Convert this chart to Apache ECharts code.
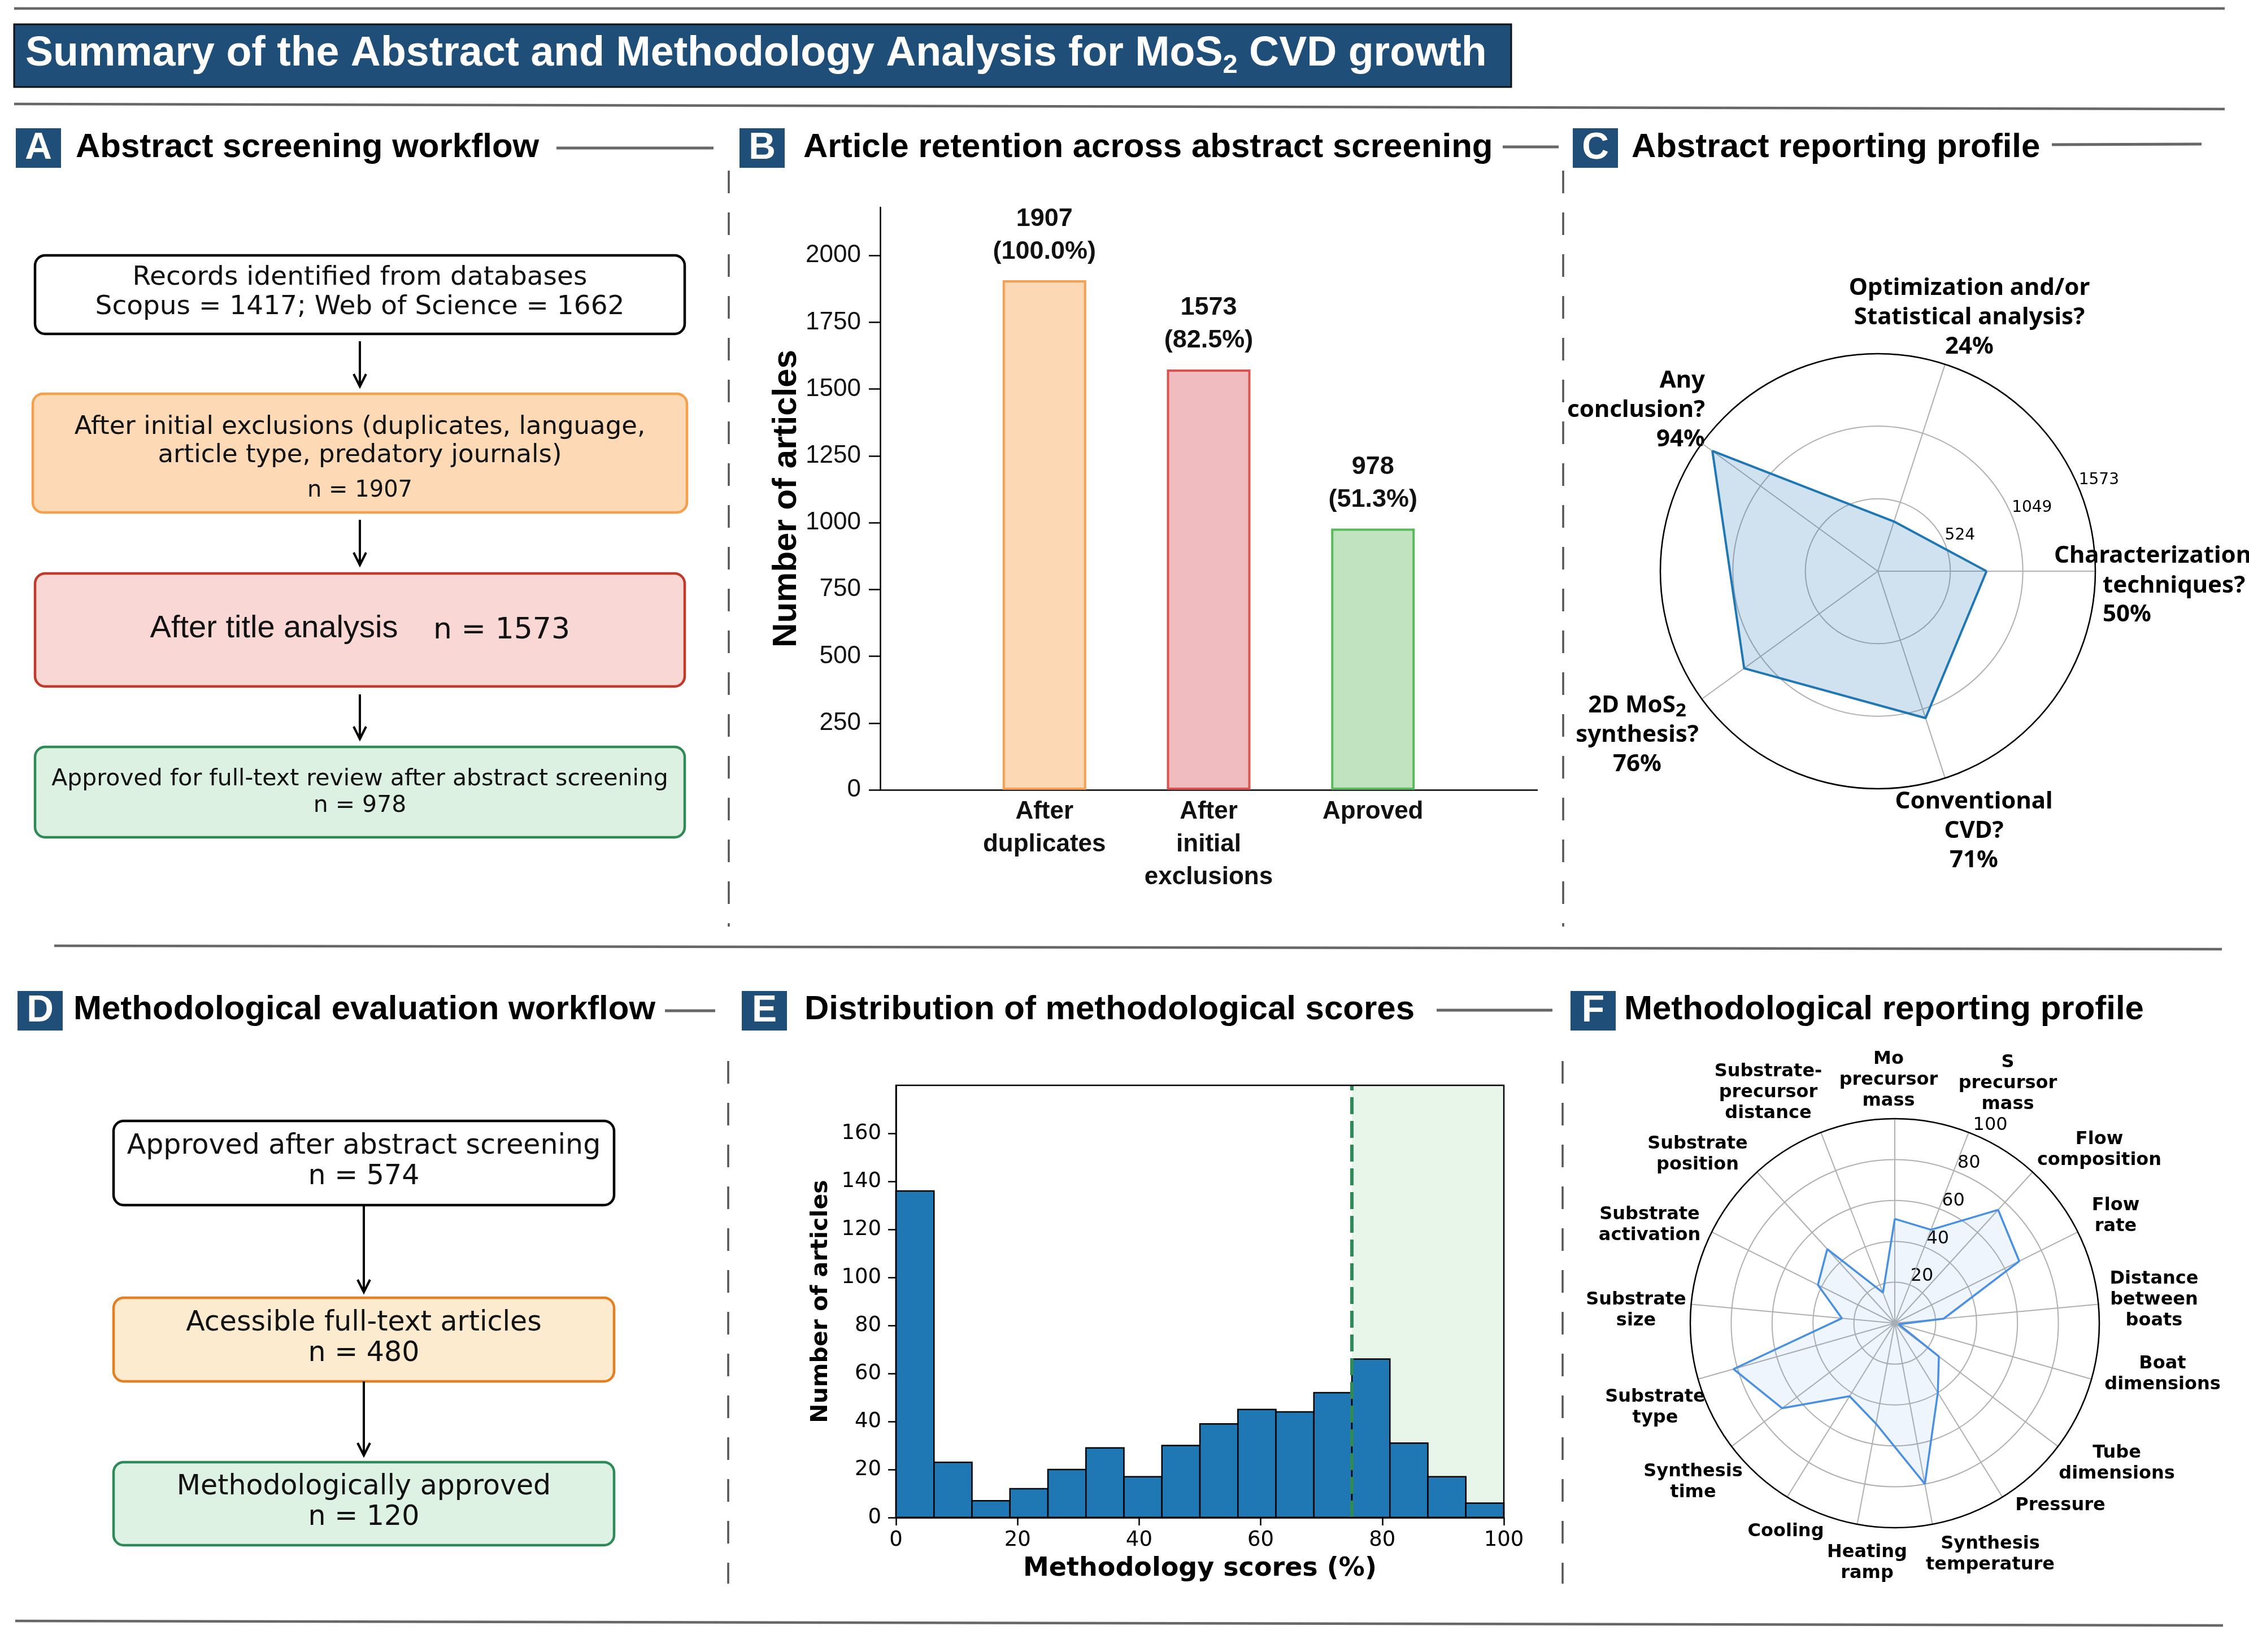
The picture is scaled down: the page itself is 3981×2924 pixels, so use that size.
<!DOCTYPE html>
<html><head><meta charset="utf-8">
<script src="https://cdn.jsdelivr.net/npm/echarts@6/dist/echarts.min.js"></script>
<style>html,body{margin:0;padding:0;background:#fff}#c{width:3981px;height:2924px}</style>
</head><body><div id="c"></div>
<script>
// ---------------- DATA ----------------
const databaseNames = ['Scopus', 'Web of Science'];
const databaseCounts = [1417, 1662];

const retentionCategories = ['After\nduplicates', 'After\ninitial\nexclusions', 'Aproved'];
const retentionCounts = [1907, 1573, 978];
const retentionTicks = [0, 250, 500, 750, 1000, 1250, 1500, 1750, 2000];

const abstractCategories = ['Characterization\ntechniques?', 'Optimization and/or\nStatistical analysis?', 'Any\nconclusion?', '2D MoS{s|2}\nsynthesis?', 'Conventional\nCVD?'];
const abstractCounts = [786, 378, 1479, 1195, 1117];
const abstractPct = [50, 24, 94, 76, 71];
const abstractMax = 1573;

const methodFlowLabels = ['Approved after abstract screening', 'Acessible full-text articles', 'Methodologically approved'];
const methodFlowCounts = [574, 480, 120];

const scoreBinEdges = [0, 6.25, 12.5, 18.75, 25, 31.25, 37.5, 43.75, 50, 56.25, 62.5, 68.75, 75, 81.25, 87.5, 93.75, 100];
const scoreCounts = [136, 23, 7, 12, 20, 29, 17, 30, 39, 45, 44, 52, 66, 31, 17, 6];
const scoreXTicks = [0, 20, 40, 60, 80, 100];
const scoreYTicks = [0, 20, 40, 60, 80, 100, 120, 140, 160];
const approvalThreshold = 75;

const methodCategories = ['Mo\nprecursor\nmass', 'S\nprecursor\nmass', 'Flow\ncomposition', 'Flow\nrate', 'Distance\nbetween\nboats', 'Boat\ndimensions', 'Tube\ndimensions', 'Pressure', 'Synthesis\ntemperature', 'Heating\nramp', 'Cooling', 'Synthesis\ntime', 'Substrate\ntype', 'Substrate\nsize', 'Substrate\nactivation', 'Substrate\nposition', 'Substrate-\nprecursor\ndistance'];
const methodValues = [51, 49, 75, 68, 24, 2, 27, 40, 80, 50, 42, 69, 82, 26, 42, 49, 16];
const methodRTicks = [0, 20, 40, 60, 80, 100];

// ---------------- LAYOUT / STYLE ----------------
const NAVY = '#1f4e79';
const SEP = '#676767';
const G = [];
function ln(x1, y1, x2, y2, color, w, dash) {
  G.push({type: 'line', silent: true, shape: {x1, y1, x2, y2}, style: {stroke: color, lineWidth: w, lineDash: dash || null}});
}
function box(x, y, w, h, fill, stroke, lw) {
  G.push({type: 'rect', silent: true, shape: {x, y, width: w, height: h, r: 18}, style: {fill, stroke, lineWidth: lw}});
}
function txt(x, y, t, o) {
  const st = Object.assign({text: t, fill: '#111', align: 'center', verticalAlign: 'middle', textAlign: 'center', textVerticalAlign: 'middle', fontFamily: 'DejaVu Sans', fontSize: 47}, o || {});
  if (o && o.align) st.textAlign = o.align;
  if (o && o.verticalAlign) st.textVerticalAlign = o.verticalAlign;
  G.push({type: 'text', silent: true, x, y, style: st});
}
function arrow(x, y1, y2) {
  ln(x, y1, x, y2, '#000', 4);
  G.push({type: 'polyline', silent: true, shape: {points: [[x - 11, y2 - 22], [x, y2], [x + 11, y2 - 22]]}, style: {stroke: '#000', lineWidth: 4, fill: null}});
}
function header(bx, by, letter, tx, ty, title) {
  G.push({type: 'rect', silent: true, shape: {x: bx, y: by, width: 80, height: 70}, style: {fill: NAVY}});
  txt(bx + 40, by + 36, letter, {fill: '#fff', fontFamily: 'Liberation Sans', fontWeight: 'bold', fontSize: 66});
  txt(tx, ty, title, {align: 'left', fontFamily: 'Liberation Sans', fontWeight: 'bold', fontSize: 60, fill: '#000'});
}

// separators
ln(25, 15, 3938, 15, SEP, 4.5);
ln(25, 184, 3938, 193, SEP, 4.5);
ln(96, 1674, 3933, 1680, SEP, 4.5);
ln(27, 2869, 3935, 2877, SEP, 4.5);
// vertical dashed separators
ln(1290, 302, 1290, 1640, '#555', 3.5, [40, 34]);
ln(2767, 302, 2767, 1640, '#555', 3.5, [40, 34]);
ln(1289, 1878, 1289, 2803, '#555', 3.5, [40, 34]);
ln(2766, 1878, 2766, 2803, '#555', 3.5, [40, 34]);

// title
G.push({type: 'rect', silent: true, shape: {x: 25, y: 43, width: 2650, height: 111}, style: {fill: NAVY, stroke: '#111', lineWidth: 3}});
txt(45, 96, 'Summary of the Abstract and Methodology Analysis for MoS{s|2} CVD growth', {
  align: 'left', fill: '#fff', fontFamily: 'Liberation Sans', fontWeight: 'bold', fontSize: 73.5, lineHeight: 88,
  rich: {s: {fill: '#fff', fontFamily: 'Liberation Sans', fontWeight: 'bold', fontSize: 47, lineHeight: 38, verticalAlign: 'bottom'}}
});

// panel headers
header(28, 227, 'A', 134, 261, 'Abstract screening workflow');
ln(985, 262, 1263, 262, SEP, 5);
header(1309, 227, 'B', 1422, 261, 'Article retention across abstract screening');
ln(2660, 260, 2759, 260, SEP, 5);
header(2784, 227, 'C', 2888, 261, 'Abstract reporting profile');
ln(3632, 256, 3897, 255, SEP, 5);
header(31, 1754, 'D', 130, 1787, 'Methodological evaluation workflow');
ln(1177, 1789, 1266, 1789, SEP, 5);
header(1313, 1754, 'E', 1424, 1787, 'Distribution of methodological scores');
ln(2543, 1788, 2748, 1788, SEP, 5);
header(2780, 1754, 'F', 2875, 1787, 'Methodological reporting profile');

// ---- Panel A flowchart ----
box(62, 452, 1150, 139, '#ffffff', '#000', 4.5);
txt(637, 518, 'Records identified from databases\n' + databaseNames[0] + ' = ' + databaseCounts[0] + '; ' + databaseNames[1] + ' = ' + databaseCounts[1], {fontSize: 47, lineHeight: 52});
arrow(637, 604, 684);
box(58, 697, 1158, 210, '#fdd9b6', '#f5a04d', 4.5);
txt(637, 781, 'After initial exclusions (duplicates, language,\narticle type, predatory journals)', {fontSize: 45, lineHeight: 50});
txt(637, 869, 'n = ' + retentionCounts[0], {fontSize: 40});
arrow(637, 920, 1000);
box(62, 1015, 1150, 200, '#f8d7d5', '#c0392b', 4.5);
txt(485, 1113, 'After title analysis', {fontFamily: 'Liberation Sans', fontSize: 56});
txt(888, 1116, 'n = ' + retentionCounts[1], {fontSize: 52});
arrow(637, 1229, 1308);
box(62, 1322, 1150, 160, '#dcf1e2', '#2e8b57', 4.5);
txt(637, 1403, 'Approved for full-text review after abstract screening\nn = ' + retentionCounts[2], {fontSize: 41, lineHeight: 47});

// ---- Panel D flowchart ----
const dBoxes = [[1984, 149, '#ffffff', '#000'], [2297, 148, '#fdebd0', '#e67e22'], [2588, 147, '#ddf2e3', '#2e8b57']];
dBoxes.forEach((b, i) => {
  box(201, b[0], 886, b[1], b[2], b[3], 4.5);
  txt(644, b[0] + b[1] / 2 - 2, methodFlowLabels[i] + '\nn = ' + methodFlowCounts[i], {fontSize: 49, lineHeight: 54});
});
arrow(644, 2133, 2287);
arrow(644, 2445, 2576);

// ---- Panel C category labels ----
const cFont = {fontFamily: 'Noto Sans', fontWeight: 'bold', fontSize: 42, lineHeight: 52, fill: '#000'};
const cRich = {s: {fontFamily: 'Noto Sans', fontWeight: 'bold', fontSize: 33, lineHeight: 30, verticalAlign: 'bottom', fill: '#000'}};
const cParts = abstractCategories.map((c, i) => c.split('\n').concat([abstractPct[i] + '%']));
txt(3636, 984, cParts[0][0], Object.assign({align: 'left'}, cFont));
txt(3722, 1037, cParts[0][1], Object.assign({align: 'left'}, cFont));
txt(3722, 1088, cParts[0][2], Object.assign({align: 'left'}, cFont));
txt(3486, 562, cParts[1].join('\n'), cFont);
txt(3018, 726, cParts[2].join('\n'), Object.assign({align: 'right'}, cFont));
txt(2898, 1301, cParts[3].join('\n'), Object.assign({rich: cRich}, cFont));
txt(3494, 1471, cParts[4].join('\n'), cFont);

// ---- Panel F category labels ----
const fLabelPos = [[3343, 1912], [3554, 1918], [3716, 2035], [3745, 2152], [3813, 2301], [3828, 2432], [3747, 2590], [3647, 2665], [3523, 2751], [3305, 2766], [3161, 2711], [2997, 2623], [2930, 2491], [2896, 2319], [2920, 2168], [3005, 2043], [3130, 1934]];
methodCategories.forEach((c, i) => {
  txt(fLabelPos[i][0], fLabelPos[i][1], c, {fontFamily: 'DejaVu Sans', fontWeight: 'bold', fontSize: 32, lineHeight: 37, fill: '#000'});
});

// ---------------- CHART ----------------
const chart = echarts.init(document.getElementById('c'), null, {renderer: 'canvas', width: 3981, height: 2924});
const barFill = ['#fdd8b4', '#f0bcbf', '#c1e3bf'];
const barEdge = ['#f5a052', '#d9534f', '#5cb85c'];
const gray = '#b0b0b0';

const option = {
  backgroundColor: '#ffffff',
  animation: false,
  graphic: {elements: G},
  grid: [
    {left: 1558, top: 367, width: 1163, height: 1031, show: false},
    {left: 1586, top: 1921, width: 1076, height: 765, show: true, borderColor: '#000', borderWidth: 2.5, backgroundColor: 'transparent', z: 10}
  ],
  xAxis: [
    {gridIndex: 0, type: 'category', boundaryGap: false, data: [''].concat(retentionCategories, ['']),
      axisLine: {lineStyle: {color: '#000', width: 2.5}}, axisTick: {show: false},
      axisLabel: {interval: 0, margin: 10, fontFamily: 'Liberation Sans', fontWeight: 'bold', fontSize: 44, lineHeight: 58, color: '#111'}},
    {gridIndex: 1, type: 'value', min: 0, max: 100, interval: 20,
      axisLine: {lineStyle: {color: '#000', width: 2.5}}, axisTick: {length: 14, lineStyle: {width: 2.5, color: '#000'}},
      axisLabel: {margin: 22, fontFamily: 'DejaVu Sans', fontSize: 37, color: '#000', formatter: v => String(v)}, splitLine: {show: false},
      name: 'Methodology scores (%)', nameLocation: 'middle', nameGap: 68,
      nameTextStyle: {fontFamily: 'DejaVu Sans', fontWeight: 'bold', fontSize: 46, color: '#000'}}
  ],
  yAxis: [
    {gridIndex: 0, type: 'value', min: 0, max: 2180, interval: 250,
      axisLine: {show: true, lineStyle: {color: '#000', width: 2.5}},
      axisTick: {show: true, length: 20, lineStyle: {width: 2.5, color: '#000'}, customValues: retentionTicks},
      axisLabel: {margin: 34, fontFamily: 'Liberation Sans', fontSize: 44, color: '#111', customValues: retentionTicks, formatter: v => String(v)},
      splitLine: {show: false},
      name: 'Number of articles', nameLocation: 'middle', nameGap: 135,
      nameTextStyle: {fontFamily: 'Liberation Sans', fontWeight: 'bold', fontSize: 60, color: '#000'}},
    {gridIndex: 1, type: 'value', min: 0, max: 180, interval: 20,
      axisLine: {show: true, lineStyle: {color: '#000', width: 2.5}},
      axisTick: {show: true, length: 14, lineStyle: {width: 2.5, color: '#000'}, customValues: scoreYTicks},
      axisLabel: {margin: 26, fontFamily: 'DejaVu Sans', fontSize: 37, color: '#000', customValues: scoreYTicks, formatter: v => String(v)},
      splitLine: {show: false},
      name: 'Number of articles', nameLocation: 'middle', nameGap: 112,
      nameTextStyle: {fontFamily: 'DejaVu Sans', fontWeight: 'bold', fontSize: 41, color: '#000'}}
  ],
  polar: [
    {center: [3324, 1011], radius: [0, 385]},
    {center: [3324, 1011], radius: [0, 385]},
    {center: [3354, 2342], radius: [0, 362]},
    {center: [3354, 2342], radius: [0, 362]}
  ],
  angleAxis: [
    {polarIndex: 0, type: 'value', min: 0, max: abstractCategories.length, interval: 1, startAngle: 0, clockwise: false, z: 3,
      axisLine: {show: true, lineStyle: {color: '#000', width: 2.5}}, axisTick: {show: false}, axisLabel: {show: false},
      splitLine: {show: true, lineStyle: {color: gray, width: 2}}},
    {polarIndex: 1, type: 'value', min: 0, max: 360, startAngle: 22.5, show: false},
    {polarIndex: 2, type: 'value', min: 0, max: methodCategories.length, interval: 1, startAngle: 90, clockwise: true, z: 3,
      axisLine: {show: true, lineStyle: {color: '#000', width: 2.5}}, axisTick: {show: false}, axisLabel: {show: false},
      splitLine: {show: true, lineStyle: {color: gray, width: 2}}},
    {polarIndex: 3, type: 'value', min: 0, max: 360, startAngle: 67.5, show: false}
  ],
  radiusAxis: [
    {polarIndex: 0, type: 'value', min: 0, max: abstractMax, interval: abstractMax / 3,
      axisLine: {show: false}, axisTick: {show: false}, axisLabel: {show: false},
      splitLine: {show: true, lineStyle: {color: gray, width: 2}}},
    {polarIndex: 1, type: 'value', min: 0, max: abstractMax, interval: abstractMax / 3,
      axisLine: {show: false}, axisTick: {show: false}, splitLine: {show: false},
      axisLabel: {show: true, margin: 0, align: 'left', verticalAlign: 'bottom', fontFamily: 'DejaVu Sans', fontSize: 28, color: '#000',
        customValues: [abstractMax / 3, abstractMax * 2 / 3, abstractMax],
        formatter: v => (v < 1 ? '' : String(Math.round(v)))}},
    {polarIndex: 2, type: 'value', min: 0, max: 100, interval: 20,
      axisLine: {show: false}, axisTick: {show: false}, axisLabel: {show: false},
      splitLine: {show: true, lineStyle: {color: gray, width: 2}}},
    {polarIndex: 3, type: 'value', min: 0, max: 100, interval: 20,
      axisLine: {show: false}, axisTick: {show: false}, splitLine: {show: false},
      axisLabel: {show: true, margin: 0, align: 'left', verticalAlign: 'bottom', fontFamily: 'DejaVu Sans', fontSize: 32, color: '#000',
        customValues: methodRTicks.slice(1),
        formatter: v => (v === 0 ? '' : String(v))}}
  ],
  series: [
    {type: 'bar', xAxisIndex: 0, yAxisIndex: 0, barWidth: 148, z: 3,
      data: [null].concat(retentionCounts.map((v, i) => ({value: v, itemStyle: {color: barFill[i], borderColor: barEdge[i], borderWidth: 4}})), [null]),
      label: {show: true, position: 'top', distance: 22, fontFamily: 'Liberation Sans', fontWeight: 'bold', fontSize: 45, lineHeight: 58, color: '#111',
        formatter: p => p.value + '\n(' + (p.value / retentionCounts[0] * 100).toFixed(1) + '%)'}},
    {type: 'line', xAxisIndex: 1, yAxisIndex: 1, data: [], z: 1, silent: true,
      markArea: {silent: true, itemStyle: {color: '#e8f5e9', opacity: 1}, data: [[{xAxis: approvalThreshold}, {xAxis: 100}]]},
      markLine: {silent: true, symbol: ['none', 'none'], label: {show: false}, lineStyle: {color: '#2e8b57', width: 6, type: [30, 12], opacity: 1},
        data: [{xAxis: approvalThreshold}]}},
    {type: 'custom', xAxisIndex: 1, yAxisIndex: 1, z: 3,
      data: scoreCounts.map((c, i) => [scoreBinEdges[i], scoreBinEdges[i + 1], c]),
      encode: {x: [0, 1], y: 2},
      renderItem: (params, api) => {
        const p0 = api.coord([api.value(0), api.value(2)]);
        const p1 = api.coord([api.value(1), 0]);
        return {type: 'rect', shape: {x: p0[0], y: p0[1], width: p1[0] - p0[0], height: p1[1] - p0[1]},
          style: {fill: '#1f77b4', stroke: '#000', lineWidth: 2.5}};
      }},
    {type: 'line', coordinateSystem: 'polar', polarIndex: 0, symbol: 'none', z: 4,
      data: abstractCounts.map((v, i) => [v, i]).concat([[abstractCounts[0], abstractCounts.length]]),
      lineStyle: {color: '#1f77b4', width: 4}, areaStyle: {color: 'rgba(31,119,180,0.3)'}},
    {type: 'line', coordinateSystem: 'polar', polarIndex: 2, symbol: 'none', z: 4,
      data: methodValues.map((v, i) => [v, i]).concat([[methodValues[0], methodValues.length]]),
      lineStyle: {color: '#4a90e2', width: 3.5}, areaStyle: {color: 'rgba(74,144,226,0.13)'}}
  ]
};
chart.setOption(option);
</script>
</body></html>
